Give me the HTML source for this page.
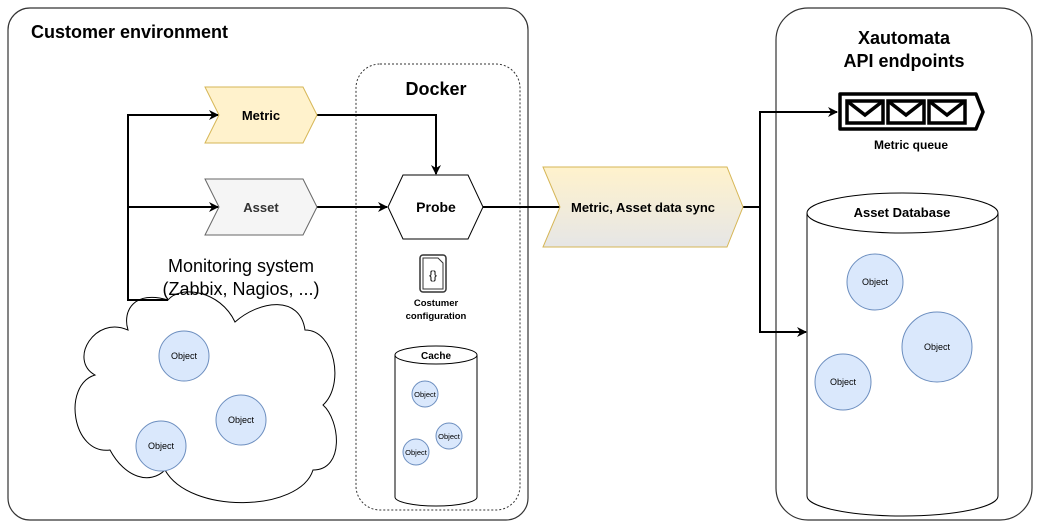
<!DOCTYPE html>
<html><head><meta charset="utf-8"><style>
html,body{margin:0;padding:0;background:#fff}
svg{display:block}
text{font-family:"Liberation Sans",Arial,sans-serif}
</style></head><body>
<svg width="1040" height="528" viewBox="0 0 1040 528" xmlns="http://www.w3.org/2000/svg">
<defs>
<marker id="ar" markerWidth="10" markerHeight="10" refX="9" refY="5" orient="auto" markerUnits="userSpaceOnUse">
<path d="M0,0 L10,5 L0,10 L3,5 Z" fill="#000"/></marker>
<linearGradient id="g" x1="0" y1="0" x2="0" y2="1"><stop offset="0" stop-color="#fff2cc"/><stop offset="1" stop-color="#e6e6e6"/></linearGradient>
</defs>
<rect x="8" y="8" width="520" height="512" rx="22" fill="#fff" stroke="#333" stroke-width="1.2"/>
<rect x="776" y="8" width="256" height="512" rx="32" fill="#fff" stroke="#333" stroke-width="1.2"/>
<rect x="356" y="64" width="164" height="446" rx="24" fill="none" stroke="#333" stroke-width="1" stroke-dasharray="2,2"/>
<text x="31" y="38" font-size="18" font-weight="bold">Customer environment</text>
<text x="436" y="95" font-size="18" font-weight="bold" text-anchor="middle">Docker</text>
<text x="904" y="44" font-size="18" font-weight="bold" text-anchor="middle">Xautomata</text>
<text x="904" y="67" font-size="18" font-weight="bold" text-anchor="middle">API endpoints</text>

<!-- cloud -->
<path d="M128,330 C95,315 68,360 95,375 C62,385 72,455 110,450 C125,478 150,485 165,470 C190,515 300,512 313,470 C345,470 340,420 323,405 C345,385 335,330 305,330 C300,295 260,300 235,322 C220,290 180,285 168,300 C135,290 122,310 128,330 Z" fill="#fff" stroke="#000" stroke-width="1"/>

<!-- connectors left -->
<polyline points="168,300 128,300 128,115 218,115" fill="none" stroke="#000" stroke-width="2" marker-end="url(#ar)"/>
<line x1="128" y1="207" x2="218" y2="207" stroke="#000" stroke-width="2" marker-end="url(#ar)"/>
<polyline points="317,115 436,115 436,174" fill="none" stroke="#000" stroke-width="2" marker-end="url(#ar)"/>
<line x1="317" y1="207" x2="387" y2="207" stroke="#000" stroke-width="2" marker-end="url(#ar)"/>
<line x1="483" y1="207" x2="560" y2="207" stroke="#000" stroke-width="2"/>
<polyline points="743,207 760,207 760,112 837,112" fill="none" stroke="#000" stroke-width="2" marker-end="url(#ar)"/>
<polyline points="760,207 760,332 806,332" fill="none" stroke="#000" stroke-width="2" marker-end="url(#ar)"/>

<!-- steps -->
<polygon points="205,87 303,87 317,115 303,143 205,143 219,115" fill="#fff2cc" stroke="#d6b656"/>
<text x="261" y="120" font-size="13" font-weight="bold" text-anchor="middle">Metric</text>
<polygon points="205,179 303,179 317,207 303,235 205,235 219,207" fill="#f5f5f5" stroke="#666"/>
<text x="261" y="212" font-size="13" font-weight="bold" text-anchor="middle" fill="#333">Asset</text>
<polygon points="543,167 727,167 743,207 727,247 543,247 560,207" fill="url(#g)" stroke="#d6b656"/>
<text x="643" y="212" font-size="13" font-weight="bold" text-anchor="middle">Metric, Asset data sync</text>

<!-- probe -->
<polygon points="388,207 403,175 468,175 483,207 468,239 403,239" fill="#fff" stroke="#000"/>
<text x="436" y="212" font-size="14" font-weight="bold" text-anchor="middle">Probe</text>

<!-- config icon -->
<rect x="420" y="255" width="26" height="37" rx="3" fill="#fff" stroke="#333" stroke-width="1.5"/>
<path d="M423,258 L438,258 L443,263 L443,289 L423,289 Z" fill="#fff" stroke="#333" stroke-width="1"/>
<text x="433" y="279" font-size="12" text-anchor="middle">{}</text>
<text x="436" y="306" font-size="9.5" font-weight="bold" text-anchor="middle">Costumer</text>
<text x="436" y="319" font-size="9.5" font-weight="bold" text-anchor="middle">configuration</text>

<!-- cache -->
<path d="M395,355 L395,497 A41,9 0 0 0 477,497 L477,355" fill="#fff" stroke="#000"/>
<ellipse cx="436" cy="355" rx="41" ry="9" fill="#fff" stroke="#000"/>
<text x="436" y="359" font-size="10" font-weight="bold" text-anchor="middle">Cache</text>
<g fill="#dae8fc" stroke="#6c8ebf">
<circle cx="425" cy="394" r="13"/><circle cx="449" cy="436" r="13"/><circle cx="416" cy="452" r="13"/>
<circle cx="184" cy="356" r="25"/><circle cx="241" cy="420" r="25"/><circle cx="161" cy="446" r="25"/>
</g>
<g font-size="7.5" text-anchor="middle"><text x="425" y="397">Object</text><text x="449" y="439">Object</text><text x="416" y="455">Object</text></g>
<g font-size="9" text-anchor="middle"><text x="184" y="359">Object</text><text x="241" y="423">Object</text><text x="161" y="449">Object</text></g>

<text x="241" y="272" font-size="18" text-anchor="middle">Monitoring system</text>
<text x="241" y="295" font-size="18" text-anchor="middle">(Zabbix, Nagios, ...)</text>

<!-- queue -->
<polygon points="840,94 976,94 983,112 976,129 840,129" fill="#fff" stroke="#000" stroke-width="3.5" stroke-linejoin="round"/>
<g fill="#fff" stroke="#000" stroke-width="3.5">
<rect x="847" y="101" width="36" height="22"/><polyline points="847,101 865,115 883,101" fill="none"/>
<rect x="888" y="101" width="36" height="22"/><polyline points="888,101 906,115 924,101" fill="none"/>
<rect x="929" y="101" width="36" height="22"/><polyline points="929,101 947,115 965,101" fill="none"/>
</g>
<text x="911" y="149" font-size="12" font-weight="bold" text-anchor="middle">Metric queue</text>

<!-- asset db -->
<path d="M807,213 L807,496 A95.5,20 0 0 0 998,496 L998,213" fill="#fff" stroke="#000"/>
<ellipse cx="902.5" cy="213" rx="95.5" ry="20" fill="#fff" stroke="#000"/>
<text x="902" y="217" font-size="13" font-weight="bold" text-anchor="middle">Asset Database</text>
<g fill="#dae8fc" stroke="#6c8ebf"><circle cx="875" cy="282" r="28"/><circle cx="937" cy="347" r="35"/><circle cx="843" cy="382" r="28"/></g>
<g font-size="9" text-anchor="middle"><text x="875" y="285">Object</text><text x="937" y="350">Object</text><text x="843" y="385">Object</text></g>
</svg>
</body></html>
